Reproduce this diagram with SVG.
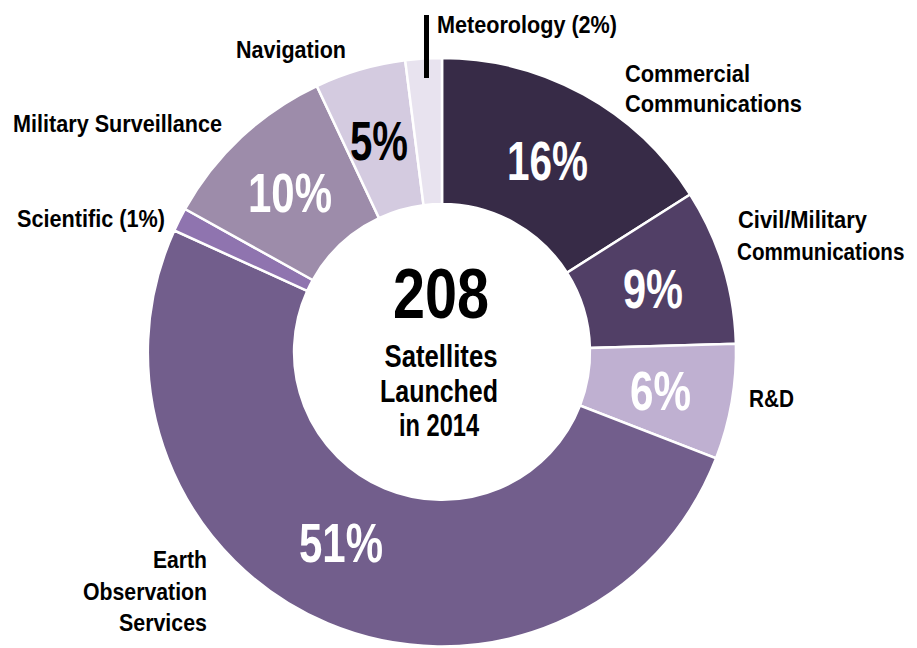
<svg xmlns="http://www.w3.org/2000/svg" width="917" height="648" viewBox="0 0 917 648">
<style>
.slice{stroke:#ffffff;stroke-width:2.5;stroke-linejoin:miter}
text{font-family:"Liberation Sans",Arial,sans-serif;font-weight:bold}
.lbl{font-size:24px;fill:#000000}
.pct{font-size:55px;fill:#ffffff;text-anchor:middle}
.ctr{font-size:32px;fill:#000000;text-anchor:middle}
.end{text-anchor:end}
</style>
<rect width="917" height="648" fill="#ffffff"/>
<g id="commercial">
<path class="slice" fill="#372B47" d="M442 58 A294 294 0 0 1 690.2 194.5 L567 272.7 A148 148 0 0 0 442 204 Z"/>
<text class="pct" x="547.5" y="180" textLength="81" lengthAdjust="spacingAndGlyphs">16%</text>
<text class="lbl" x="625" y="82" textLength="125" lengthAdjust="spacingAndGlyphs">Commercial</text>
<text class="lbl" x="625" y="112" textLength="177" lengthAdjust="spacingAndGlyphs">Communications</text>
</g>
<g id="civil-military">
<path class="slice" fill="#513F66" d="M690.2 194.5 A294 294 0 0 1 735.9 343.8 L589.9 347.9 A148 148 0 0 0 567 272.7 Z"/>
<text class="pct" x="653" y="308" textLength="60" lengthAdjust="spacingAndGlyphs">9%</text>
<text class="lbl" x="738" y="228" textLength="129" lengthAdjust="spacingAndGlyphs">Civil/Military</text>
<text class="lbl" transform="translate(737 260) scale(0.86 1)" x="0" y="0">Communications</text>
</g>
<g id="rnd">
<path class="slice" fill="#BFB0D1" d="M735.9 343.8 A294 294 0 0 1 716.1 458.3 L580 405.5 A148 148 0 0 0 589.9 347.9 Z"/>
<text class="pct" x="660.5" y="410" textLength="61" lengthAdjust="spacingAndGlyphs">6%</text>
<text class="lbl" x="749" y="407" textLength="45" lengthAdjust="spacingAndGlyphs">R&amp;D</text>
</g>
<g id="earth-observation">
<path class="slice" fill="#725E8C" d="M716.1 458.3 A294 294 0 1 1 174.3 230.5 L307.2 290.9 A148 148 0 1 0 580 405.5 Z"/>
<text class="pct" x="341" y="562" textLength="84" lengthAdjust="spacingAndGlyphs">51%</text>
<text class="lbl end" x="207" y="568" textLength="54" lengthAdjust="spacingAndGlyphs">Earth</text>
<text class="lbl end" x="207" y="600" textLength="124" lengthAdjust="spacingAndGlyphs">Observation</text>
<text class="lbl end" x="207" y="631" textLength="88" lengthAdjust="spacingAndGlyphs">Services</text>
</g>
<g id="scientific">
<path class="slice" fill="#8F74AF" d="M174.3 230.5 A294 294 0 0 1 185.1 209 L312.7 280 A148 148 0 0 0 307.2 290.9 Z"/>
<text class="lbl" x="17" y="227" textLength="148" lengthAdjust="spacingAndGlyphs">Scientific (1%)</text>
</g>
<g id="military-surveillance">
<path class="slice" fill="#9D8CAA" d="M185.1 209 A294 294 0 0 1 316.8 86 L379 218.1 A148 148 0 0 0 312.7 280 Z"/>
<text class="pct" x="290" y="212" textLength="84" lengthAdjust="spacingAndGlyphs">10%</text>
<text class="lbl" x="13" y="132" textLength="209" lengthAdjust="spacingAndGlyphs">Military Surveillance</text>
</g>
<g id="navigation">
<path class="slice" fill="#D4CBE0" d="M316.8 86 A294 294 0 0 1 405.2 60.3 L423.5 205.2 A148 148 0 0 0 379 218.1 Z"/>
<text class="pct" x="379" y="160" style="fill:#000000" textLength="58" lengthAdjust="spacingAndGlyphs">5%</text>
<text class="lbl" x="236" y="58" textLength="110" lengthAdjust="spacingAndGlyphs">Navigation</text>
</g>
<g id="meteorology">
<path class="slice" fill="#E8E3EF" d="M405.2 60.3 A294 294 0 0 1 442 58 L442 204 A148 148 0 0 0 423.5 205.2 Z"/>
<text class="lbl" x="437" y="33" textLength="180" lengthAdjust="spacingAndGlyphs">Meteorology (2%)</text>
</g>
<g id="center">
<text class="ctr" x="441" y="318" style="font-size:70px" textLength="96" lengthAdjust="spacingAndGlyphs">208</text>
<text class="ctr" x="441" y="367" textLength="113" lengthAdjust="spacingAndGlyphs">Satellites</text>
<text class="ctr" x="439" y="402" textLength="118" lengthAdjust="spacingAndGlyphs">Launched</text>
<text class="ctr" x="439" y="436" textLength="80" lengthAdjust="spacingAndGlyphs">in 2014</text>
</g>
<g id="connectors">
<line x1="426.5" y1="15" x2="426.5" y2="78" stroke="#000000" stroke-width="5"/>
</g>
</svg>
